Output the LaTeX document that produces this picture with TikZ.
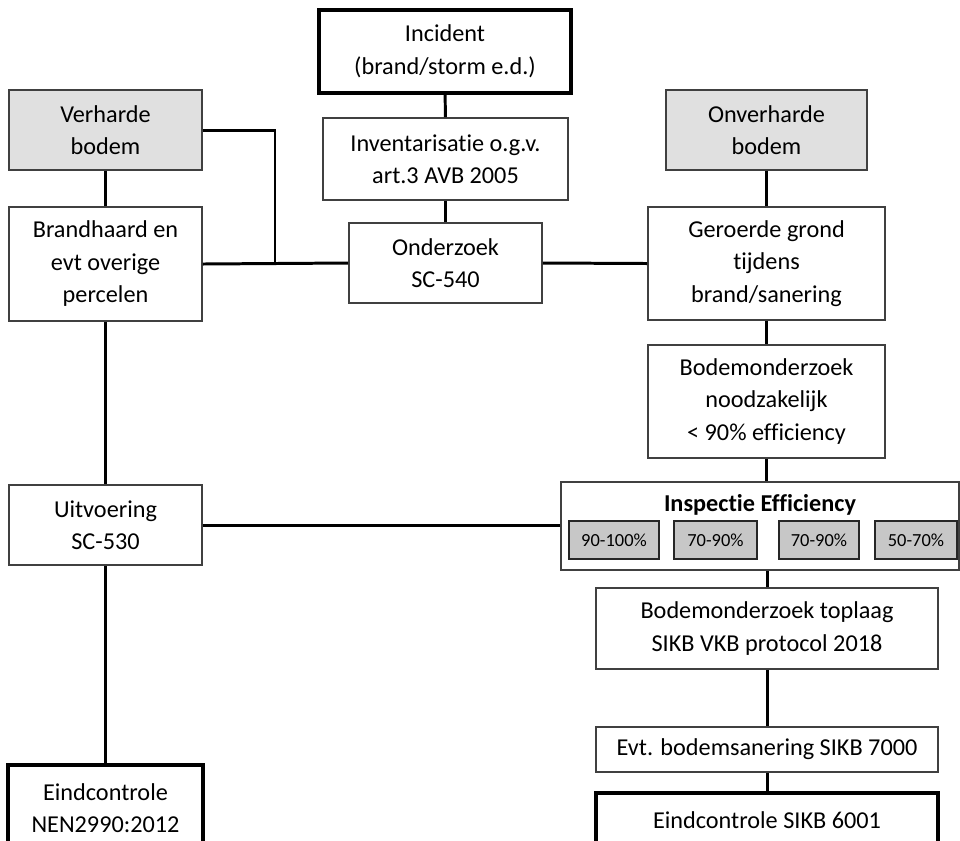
\documentclass[tikz,border=0pt]{standalone}
\usepackage{fontspec}
\setmainfont{Carlito}[Ligatures=NoCommon]
\usepackage{tikz}
\usepackage{xcolor}

\begin{document}
\begin{tikzpicture}[%
        x=0.02cm, y=-0.02cm,
        font=\fontsize{13.8}{18.5}\selectfont,
        box/.style={ rectangle, align=center, draw=black!75, line width=1pt, fill=white, inner sep=0pt },%
        greybox/.style={ box, fill=black!12 },%
        endbox/.style={ box, draw=black, line width=2.4pt },%
        pctbox/.style={ box, draw=black!85, fill=black!22, minimum height=0.76cm, font=\fontsize{10.5}{12}\selectfont },%
        link/.style={ line width=1.7pt, black }%
      ]
      \useasboundingbox (0,0) rectangle (960,840);
      \clip (0,0) rectangle (960,840);
      % middle column
      \node (incident) at (445, 51.5) [endbox, minimum width=5.04cm, minimum height=1.66cm]{Incident\\(brand/storm e.d.)};
      \node (invent) at (445.5, 159) [box, minimum width=4.9cm, minimum height=1.64cm]{Inventarisatie o.g.v.\\art.3 AVB 2005};
      \node (onderzoek) at (445.5, 263) [box, minimum width=3.86cm, minimum height=1.6cm]{Onderzoek\\SC-540};
      % left column
      \node (verhard) at (105.5, 130) [greybox, minimum width=3.86cm, minimum height=1.6cm]{Verharde\\bodem};
      \node (brandhaard) at (105.5, 264) [box, minimum width=3.86cm, minimum height=2.28cm]{Brandhaard en\\evt overige\\percelen};
      \node (uitvoering) at (105.5, 525) [box, minimum width=3.86cm, minimum height=1.6cm]{Uitvoering\\SC-530};
      \node (eindnen) at (105.5, 808) [endbox, minimum width=3.9cm, minimum height=1.72cm]{Eindcontrole\\NEN2990:2012};
      % right column
      \node (onverhard) at (766.5, 130) [greybox, minimum width=4.02cm, minimum height=1.6cm]{Onverharde\\bodem};
      \node (geroerd) at (766.5, 263.5) [box, minimum width=4.74cm, minimum height=2.26cm]{Geroerde grond\\tijdens\\brand/sanering};
      \node (noodzak) at (766.5, 401.5) [box, minimum width=4.74cm, minimum height=2.26cm]{Bodemonderzoek\\noodzakelijk\\< 90\% efficiency};
      \node (inspectie) at (760, 526) [box, minimum width=7.96cm, minimum height=1.76cm]{};
      \node (insptitel) at (760, 505) {\bfseries Inspectie Efficiency};
      \node (pcta) at (614, 540) [pctbox, minimum width=1.8cm]{90-100\%};
      \node (pctb) at (715.5, 540) [pctbox, minimum width=1.66cm]{70-90\%};
      \node (pctc) at (819, 540) [pctbox, minimum width=1.6cm]{70-90\%};
      \node (pctd) at (916, 540) [pctbox, minimum width=1.64cm]{50-70\%};
      \node (toplaag) at (767, 628.5) [box, minimum width=6.84cm, minimum height=1.62cm]{Bodemonderzoek toplaag\\SIKB VKB protocol 2018};
      \node (sanering) at (767, 749.5) [box, minimum width=6.84cm, minimum height=0.9cm]{Evt. bodemsanering SIKB 7000};
      \node (eindsikb) at (767, 820) [endbox, minimum width=6.84cm, minimum height=1.08cm]{Eindcontrole SIKB 6001};
      \coordinate (knik) at (275, 264);
      % connectors
      \draw [link] (incident) -- (invent);
      \draw [link] (invent) -- (onderzoek);
      \draw [link] (verhard) -- (brandhaard);
      \draw [link] (verhard.east) -| (knik);
      \draw [link] (brandhaard.east) -- (onderzoek.west);
      \draw [link] (onderzoek.east) -- (geroerd.west);
      \draw [link] (onverhard) -- (geroerd);
      \draw [link] (geroerd) -- (noodzak);
      \draw [link] (noodzak.south) -- (noodzak.south |- inspectie.north);
      \draw [link] (inspectie.south -| toplaag.north) -- (toplaag.north);
      \draw [link] (toplaag) -- (sanering);
      \draw [link] (sanering) -- (eindsikb);
      \draw [link] (brandhaard) -- (uitvoering);
      \draw [link] (uitvoering) -- (eindnen);
      \draw [link] (uitvoering.east) -- (uitvoering.east -| inspectie.west);
    \end{tikzpicture}
\end{document}
